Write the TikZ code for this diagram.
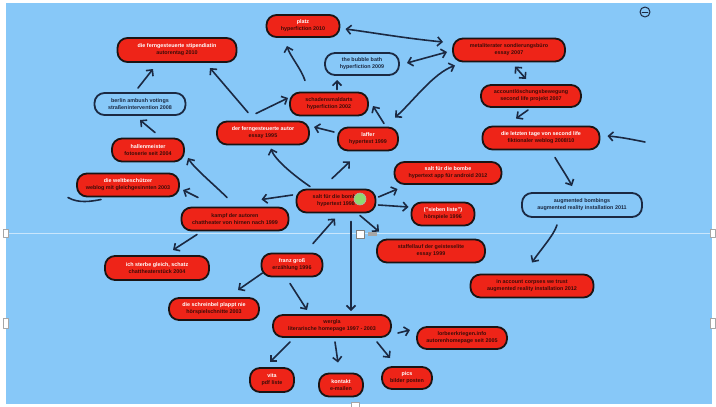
\documentclass[tikz,border=0pt]{standalone}
\usepackage{fontspec}
\setmainfont{Liberation Sans}
\usetikzlibrary{arrows.meta,calc}
\definecolor{himmel}{HTML}{87C8F8}
\definecolor{knallrot}{HTML}{EE2418}
\definecolor{tinte}{HTML}{1B2942}
\definecolor{rand}{HTML}{1A1414}
\definecolor{weinrot}{HTML}{3C0C08}
\definecolor{griff}{HTML}{8FD870}
\newcommand{\kopf}[1]{\textcolor{white}{#1}}
\tikzset{>={Straight Barb[length=4.5pt,width=9pt]},
every picture/.append style={
    line join=round,
    line cap=round
  },
rotbox/.style={draw=rand,line width=1.8pt,fill=knallrot,rounded corners=10pt,align=center,text=weinrot,font=\fontsize{5.4}{7}\selectfont\bfseries,inner sep=0pt,outer sep=0pt},
blaubox/.style={rotbox,fill=himmel,text=tinte,draw=tinte},
pfeil/.style={->,draw=tinte,line width=1.6pt}}
\begin{document}
\begin{tikzpicture}[x=1pt,y=-1pt]
    \path[use as bounding box,fill=white] (0,0) rectangle (716,407);
    \fill[himmel] (6,3) rectangle (712,404);
    \draw[white!55!himmel,line width=0.8pt] (6,233) -- (712,233);
    \filldraw[fill=white,draw=gray!70,line width=0.6pt] (3,229) rectangle (8,237);
    \filldraw[fill=white,draw=gray!70,line width=0.6pt] (3,318) rectangle (8,328);
    \filldraw[fill=white,draw=gray!70,line width=0.6pt] (710,229) rectangle (715,237);
    \filldraw[fill=white,draw=gray!70,line width=0.6pt] (710,318) rectangle (715,328);
    \filldraw[fill=white,draw=gray!70,line width=0.6pt] (351,402) rectangle (359,407);
    \filldraw[fill=himmel,draw=tinte,line width=1pt] (645,12) circle (5);
    \draw[tinte,line width=0.6pt] (642,12) -- (648,12);

    \node[rotbox,minimum width=73,minimum height=22] (platz) at (303,26) {\kopf{platz}\\hyperfiction 2010};
    \node[rotbox,minimum width=119,minimum height=24] (stip) at (177,50) {\kopf{die ferngesteuerte stipendiatin}\\autorentag 2010};
    \node[blaubox,minimum width=74,minimum height=22] (bubble) at (362,64) {the bubble bath\\hyperfiction 2009};
    \node[rotbox,minimum width=112,minimum height=23] (meta) at (509,50) {metaliterater sondierungsbüro\\essay 2007};
    \node[rotbox,minimum width=100,minimum height=22] (account) at (531,96) {accountlöschungsbewegung\\second life projekt 2007};
    \node[rotbox,minimum width=117,minimum height=23] (letzte) at (541,138) {\kopf{die letzten tage von second life}\\fiktionaler weblog 2008/10};
    \node[rotbox,minimum width=78,minimum height=23] (schaden) at (329,104) {schadensmaldarts\\hyperfiction 2002};
    \node[rotbox,minimum width=92,minimum height=23] (autor) at (263,133) {\kopf{der ferngesteuerte autor}\\essay 1995};
    \node[rotbox,minimum width=60,minimum height=23] (laffer) at (368,139) {\kopf{laffer}\\hypertext 1999};
    \node[blaubox,minimum width=91,minimum height=22] (berlin) at (140,104) {berlin ambush votings\\straßenintervention 2008};
    \node[rotbox,minimum width=72,minimum height=23] (hallen) at (148,150) {\kopf{hallenmeister}\\fotoserie seit 2004};
    \node[rotbox,minimum width=102,minimum height=23] (welt) at (128,185) {\kopf{die weltbeschützer}\\weblog mit gleichgesinnten 2003};
    \node[rotbox,minimum width=107,minimum height=23] (kampf) at (235,219) {kampf der autoren\\chattheater von hirnen nach 1999};
    \node[rotbox,minimum width=79,minimum height=23] (salt) at (336,201) {salt für die bombe\\hypertext 1998};
    \node[rotbox,minimum width=107,minimum height=22] (saltapp) at (448,173) {\kopf{salt für die bombe}\\hypertext app für android 2012};
    \node[rotbox,minimum width=63,minimum height=23] (sieben) at (443,214) {\kopf{("sieben liste")}\\hörspiele 1996};
    \node[rotbox,minimum width=108,minimum height=23] (staffel) at (431,251) {staffellauf der geisteselite\\essay 1999};
    \node[blaubox,minimum width=120,minimum height=24] (augm) at (582,205) {augmented bombings\\augmented reality installation 2011};
    \node[rotbox,minimum width=123,minimum height=23] (corpses) at (532,286) {in account corpses we trust\\augmented reality installation 2012};
    \node[rotbox,minimum width=104,minimum height=24] (sterbe) at (157,268) {\kopf{ich sterbe gleich, schatz}\\chattheaterstück 2004};
    \node[rotbox,minimum width=61,minimum height=23] (franz) at (292,265) {\kopf{franz groß}\\erzählung 1996};
    \node[rotbox,minimum width=90,minimum height=22] (schreinbel) at (214,309) {\kopf{die schreinbel plappt nie}\\hörspielschnitte 2003};
    \node[rotbox,minimum width=118,minimum height=22] (wergla) at (332,326) {wergla\\literarische homepage 1997 - 2003};
    \node[rotbox,minimum width=90,minimum height=22] (lorbeer) at (462,338) {lorbeerkriegen.info\\autorenhomepage seit 2005};
    \node[rotbox,minimum width=44,minimum height=24] (vita) at (272,380) {\kopf{vita}\\pdf liste};
    \node[rotbox,minimum width=44,minimum height=23] (kontakt) at (341,385) {\kopf{kontakt}\\e-mailen};
    \node[rotbox,minimum width=50,minimum height=22] (pics) at (407,378) {\kopf{pics}\\bilder posten};
    \coordinate (rechts) at (645,142);

    \draw[pfeil] ($(berlin.north)+(-2,-5)$) -- ($(stip.south)+(-24,7)$);
    \draw[pfeil] ($(autor.north)+(-15,-9)$) -- ($(stip.south)+(33,6)$);
    \draw[pfeil] ($(schaden.north)+(-24,-12)$) .. controls +(-4,-12) and +(3,10) .. ($(platz.south)+(-16,9)$);
    \draw[pfeil,<->] ($(platz.east)+(6,3)$) .. controls +(30,4) and +(-40,-4) .. ($(meta.west)+(-10,-8)$);
    \draw[pfeil,<->] ($(bubble.east)+(8,-1)$) -- ($(meta.west)+(-6,2)$);
    \draw[pfeil,<->] ($(meta.south west)+(2,4)$) .. controls +(-22,8) and +(18,-16) .. ($(laffer.north east)+(-3,-10)$);
    \draw[pfeil,<->] ($(meta.south)+(6,5)$) -- ($(account.north)+(-5,-6)$);
    \draw[pfeil] ($(account.south)+(-3,3)$) -- ($(letzte.north)+(-25,-8)$);
    \draw[pfeil] (rechts) .. controls +(-15,-3) and +(12,1) .. ($(letzte.east)+(8,-2)$);
    \draw[pfeil] ($(letzte.south)+(14,8)$) .. controls +(6,10) and +(-4,-8) .. ($(augm.north)+(-10,-7)$);
    \draw[pfeil] ($(augm.south)+(-25,8)$) .. controls +(-3,10) and +(8,-12) .. ($(corpses.north)+(0,-12)$);
    \draw[pfeil] ($(schaden.north)+(8,-3)$) -- ($(bubble.south)+(-25,5)$);
    \draw[pfeil] ($(autor.north)+(-7,-8)$) -- ($(schaden.west)+(-2,-6)$);
    \draw[pfeil] ($(laffer.west)+(-4,-7)$) -- ($(autor.east)+(5,-6)$);
    \draw[pfeil] ($(laffer.north)+(16,-4)$) -- ($(schaden.east)+(5,2)$);
    \draw[pfeil] ($(salt.north)+(-26,-3)$) .. controls +(-12,-8) and +(4,12) .. ($(autor.south)+(8,4)$);
    \draw[pfeil] ($(salt.north)+(-4,-11)$) -- ($(laffer.south)+(-18,11)$);
    \draw[pfeil] ($(salt.east)+(3,-4)$) -- ($(saltapp.south west)+(3,5)$);
    \draw[pfeil] ($(salt.east)+(3,4)$) -- ($(sieben.west)+(-3,-7)$);
    \draw[pfeil] ($(salt.south)+(24,3)$) -- ($(staffel.north west)+(2,-8)$);
    \draw[pfeil] ($(salt.south)+(15,9)$) -- ($(wergla.north)+(19,-4)$);
    \draw[pfeil] ($(salt.west)+(-4,-6)$) -- ($(kampf.north east)+(-27,-8)$);
    \draw[pfeil] ($(kampf.north)+(-8,-10)$) .. controls +(-12,-12) and +(6,10) .. ($(hallen.east)+(4,8)$);
    \draw[pfeil] ($(kampf.north)+(-37,-10)$) -- ($(welt.east)+(4,5)$);
    \draw[pfeil] ($(kampf.south)+(-38,4)$) -- ($(sterbe.north)+(16,-6)$);
    \draw[pfeil] ($(hallen.north)+(7,-6)$) -- ($(berlin.south)+(0,5)$);
    \draw[pfeil] ($(franz.north)+(21,-10)$) -- ($(salt.south)+(-1,6)$);
    \draw[pfeil] ($(franz.west)+(1,8)$) -- ($(schreinbel.north east)+(-21,-8)$);
    \draw[pfeil] ($(franz.south)+(-2,7)$) -- ($(wergla.north)+(-25,-5)$);
    \draw[pfeil] ($(wergla.east)+(7,7)$) -- ($(lorbeer.west)+(-7,-8)$);
    \draw[pfeil] ($(wergla.south)+(-42,5)$) -- ($(vita.north)+(-2,-6)$);
    \draw[pfeil] ($(wergla.south)+(3,5)$) -- ($(kontakt.north)+(-3,-11)$);
    \draw[pfeil] ($(wergla.south)+(45,5)$) -- ($(pics.north)+(-17,-9)$);
    \draw[tinte,line width=1.6pt] ($(welt.south west)+(-9,1)$) .. controls +(10,6) and +(-10,2) .. ($(welt.south west)+(24,3)$);

    \filldraw[fill=griff,draw=gray!60,line width=0.6pt] (360,199) circle (6);
    \filldraw[fill=white,draw=gray,line width=0.6pt] (356,230) rectangle (364,238);
    \fill[gray!70] (368,232) rectangle (377,236);
\end{tikzpicture}
\end{document}
